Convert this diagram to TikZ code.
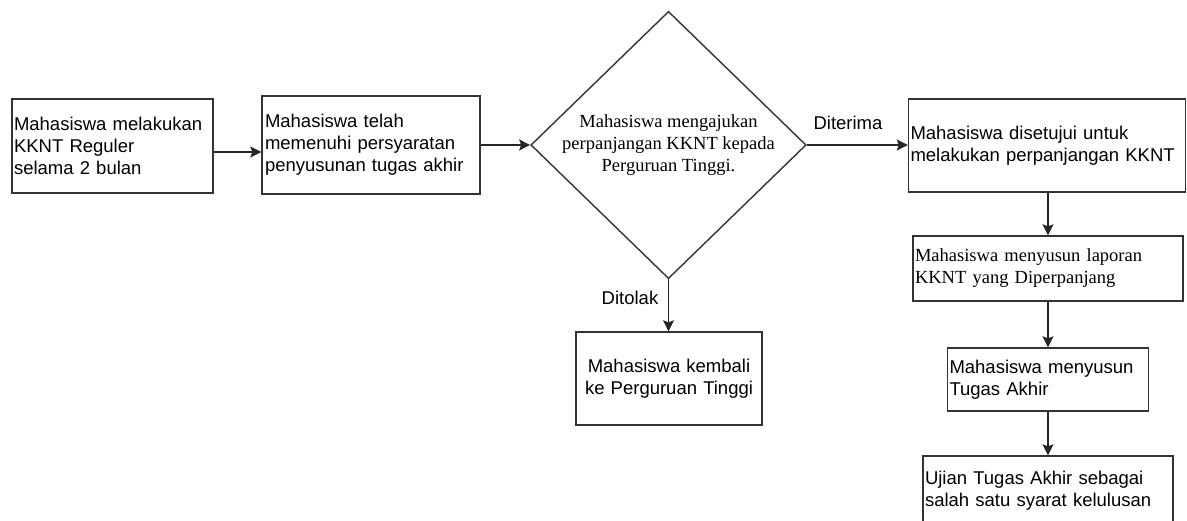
\documentclass[tikz,border=0pt]{standalone}
\usepackage{fontspec}
\setmainfont{Liberation Sans}
\newfontfamily\timesfont{Liberation Serif}
\usepackage{tikz}
\usetikzlibrary{arrows.meta,shapes.geometric,positioning}

\begin{document}
\begin{tikzpicture}[x=1pt,y=-1pt,
  kotak/.style={draw=black!80,line width=1.4pt,rectangle,inner xsep=2pt,inner ysep=0pt,align=left,font=\fontsize{18.5}{22}\selectfont},
  belah/.style={draw=black!80,line width=1.4pt,diamond,inner sep=0pt,aspect=1.03,align=center,font=\fontsize{18.5}{22}\selectfont\timesfont},
  panah/.style={-{Stealth[length=11pt,width=11pt,inset=2pt]},line width=1.6pt,black!85},
  ket/.style={font=\fontsize{18.5}{22}\selectfont}]
\useasboundingbox (0,0) rectangle (1187,520);
\clip (0,0) rectangle (1187,520);
% alur utama
\node[kotak,minimum width=201pt,minimum height=94pt,text width=197pt] (reguler) at (112.5,146) {Mahasiswa melakukan\\KKNT Reguler\\selama 2 bulan};
\node[kotak,inner xsep=3pt,minimum width=218pt,minimum height=98pt,text width=212pt] (syarat) at (371,145) {Mahasiswa telah\\memenuhi persyaratan\\penyusunan tugas akhir};
\node[belah] (ajukan) at (668.5,145) {Mahasiswa mengajukan\\perpanjangan KKNT kepada\\Perguruan Tinggi.};
\node[kotak,minimum width=277pt,minimum height=93pt,text width=273pt] (disetujui) at (1047,145.5) {Mahasiswa disetujui untuk\\melakukan perpanjangan KKNT};
\node[kotak,font=\fontsize{18.5}{22}\selectfont\timesfont,minimum width=270pt,minimum height=65pt,text width=266pt] (laporan) at (1048,268.5) {Mahasiswa menyusun laporan\\KKNT yang Diperpanjang};
\node[kotak,minimum width=201pt,minimum height=63pt,text width=197pt] (tugas) at (1048,379.5) {Mahasiswa menyusun\\Tugas Akhir};
\node[kotak,minimum width=250pt,minimum height=70pt,text width=246pt] (ujian) at (1048,491) {Ujian Tugas Akhir sebagai\\salah satu syarat kelulusan};
% cabang ditolak
\node[kotak,align=center,minimum width=186pt,minimum height=93pt,text width=182pt] (kembali) at (669,378.5) {Mahasiswa kembali\\ke Perguruan Tinggi};
\node[ket] (diterima) at (848,123) {Diterima};
\node[ket] (ditolak) at (630,298) {Ditolak};
% panah
\coordinate (r1) at ([yshift=-6pt]reguler.east);
\draw[panah] (r1) -- (r1 -| syarat.west);
\draw[panah] (syarat.east) -- (ajukan.west);
\draw[panah] (ajukan.east) -- (ajukan.east -| disetujui.west);
\draw[panah] (ajukan.south) -- (ajukan.south |- kembali.north);
\draw[panah] (laporan.north |- disetujui.south) -- (laporan.north);
\draw[panah] (laporan.south) -- (tugas.north);
\draw[panah] (tugas.south) -- (ujian.north);
\end{tikzpicture}
\end{document}
